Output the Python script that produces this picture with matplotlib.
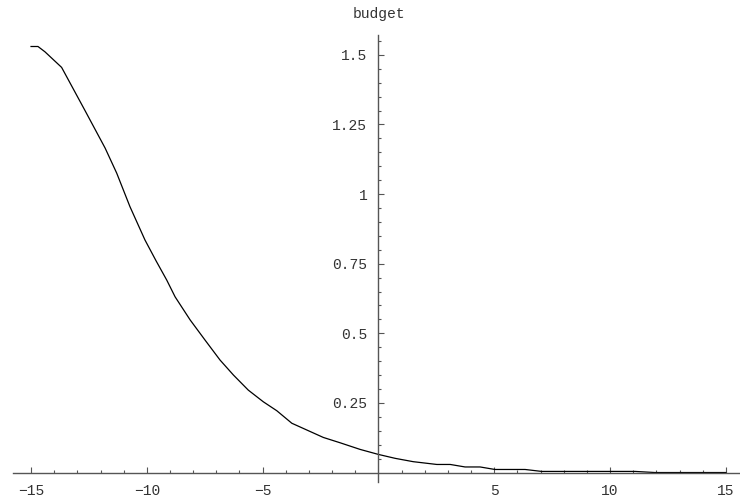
import matplotlib
matplotlib.use("Agg")
import matplotlib.pyplot as plt
from matplotlib.ticker import FixedLocator

plt.rcParams["font.family"] = "Liberation Mono"

# curve (x, budget)
x_vals = [-15.0, -14.7, -14.4, -13.68, -12.67, -11.8, -11.3, -10.73, -10.08,
          -9.6, -9.14, -8.78, -8.13, -7.49, -6.84, -6.26, -5.62, -4.97, -4.39,
          -3.74, -3.10, -2.38, -1.66, -0.79, 0.0, 0.72, 1.5, 2.52, 3.1,
          3.74, 4.39, 5.03, 6.33, 7.05, 11.08, 11.95, 15.0]
budget = [1.53, 1.53, 1.511, 1.455, 1.30, 1.165, 1.075, 0.955, 0.835,
          0.76, 0.691, 0.631, 0.548, 0.476, 0.404, 0.350, 0.296, 0.254, 0.222,
          0.177, 0.153, 0.126, 0.107, 0.083, 0.065, 0.051, 0.039, 0.029, 0.029,
          0.020, 0.020, 0.011, 0.011, 0.004, 0.004, 0.0, 0.0]

x_major = [-15, -10, -5, 5, 10, 15]
x_minor = [v for v in range(-15, 16) if v % 5 != 0]
y_major = [0.25, 0.5, 0.75, 1.0, 1.25, 1.5]
y_minor = [k * 0.05 for k in range(1, 32) if k % 5 != 0]
y_labels = ["0.25", "0.5", "0.75", "1", "1.25", "1.5"]

axis_col = "#555555"
text_col = "#333333"

fig = plt.figure(figsize=(7.4, 5.04), dpi=100)
ax = fig.add_axes([0, 0, 1, 1])
ax.plot(x_vals, budget, color="black", lw=0.9)

ax.set_xlim(-16.34, 15.61)
ax.set_ylim(-0.113, 1.697)

for side in ["top", "right"]:
    ax.spines[side].set_visible(False)
ax.spines["left"].set_position(("data", 0))
ax.spines["bottom"].set_position(("data", 0))
ax.spines["left"].set_bounds(-0.033, 1.571)
ax.spines["bottom"].set_bounds(-15.79, 15.6)
for side in ["left", "bottom"]:
    ax.spines[side].set_color(axis_col)
    ax.spines[side].set_linewidth(1.0)

ax.xaxis.set_major_locator(FixedLocator(x_major))
ax.xaxis.set_minor_locator(FixedLocator(x_minor))
ax.yaxis.set_major_locator(FixedLocator(y_major))
ax.yaxis.set_minor_locator(FixedLocator(y_minor))
ax.set_xticklabels([str(v).replace("-", "\u2212") for v in x_major])
ax.set_yticklabels(y_labels)

ax.tick_params(which="both", direction="in", color=axis_col, width=0.8,
               labelcolor=text_col, labelsize=10.5)
ax.tick_params(which="major", length=4, pad=8)
ax.tick_params(which="minor", length=2.5)

ax.text(0, 1.62, "budget", ha="center", va="bottom", fontsize=10.5,
        color=text_col)

fig.savefig("out.png", dpi=100)
